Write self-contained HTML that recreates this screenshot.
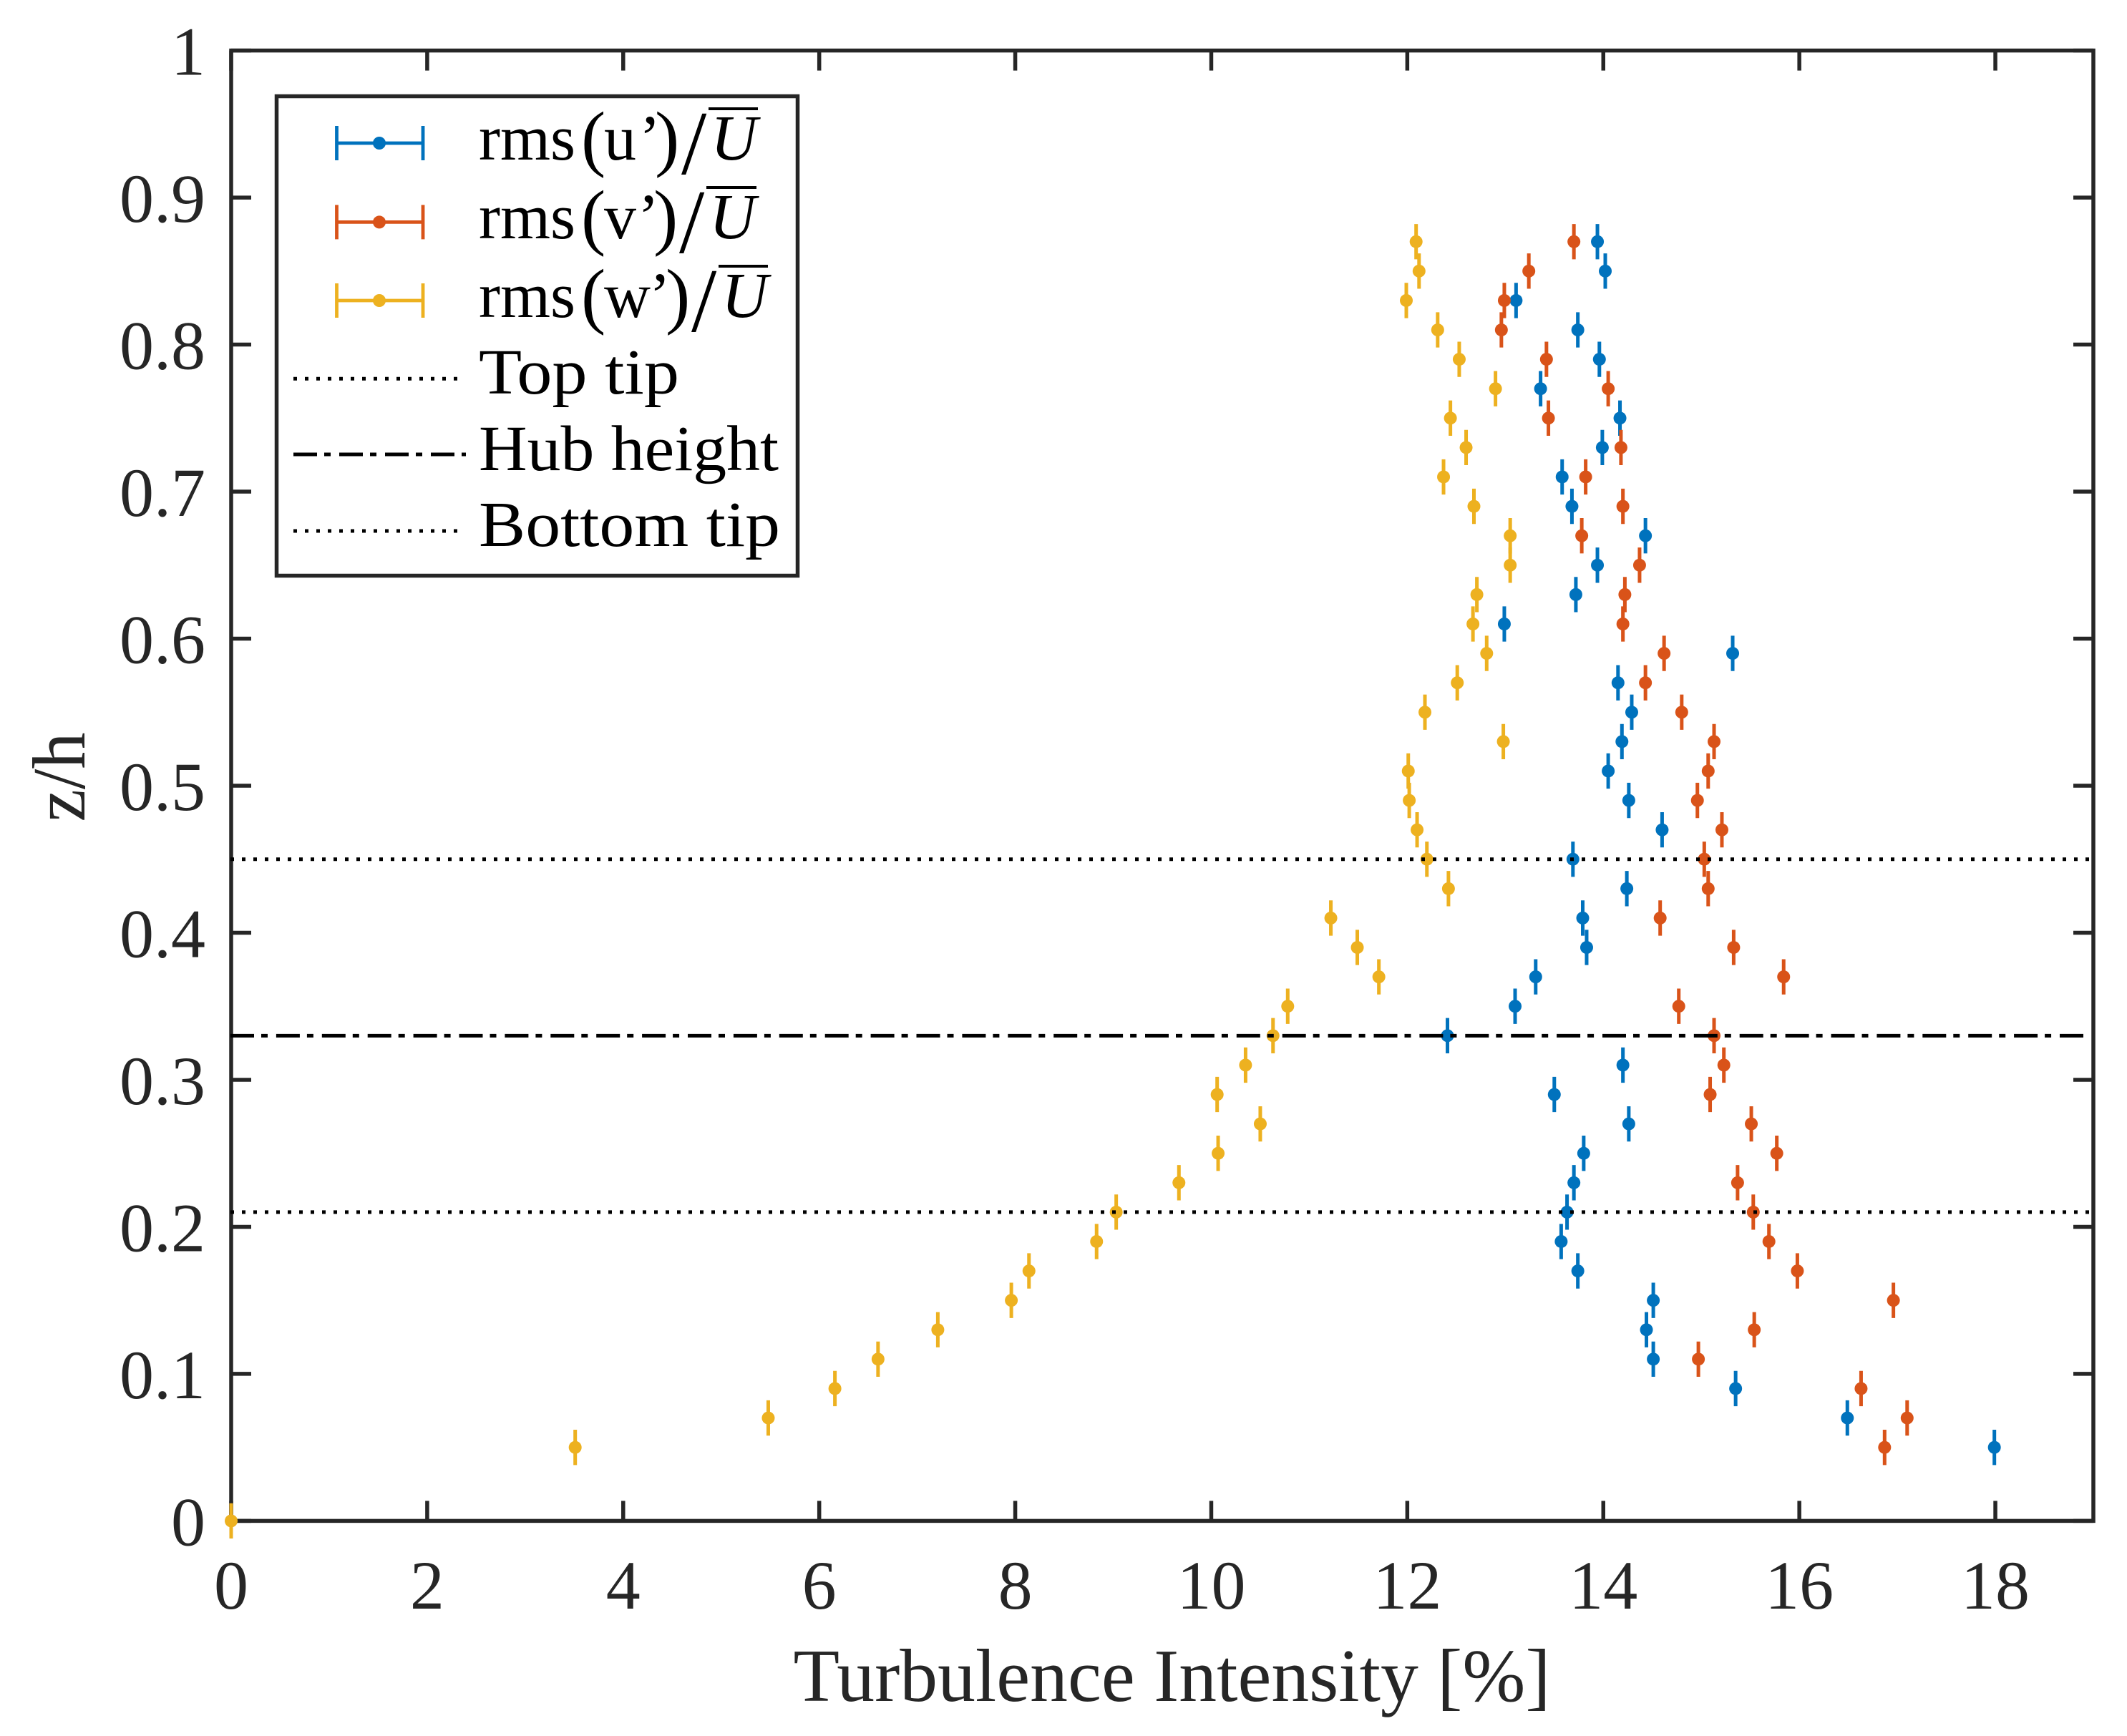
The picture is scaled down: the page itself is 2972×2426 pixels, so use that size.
<!DOCTYPE html>
<html lang="en">
<head>
<meta charset="utf-8">
<title>Turbulence Intensity Profile</title>
<style>
  html, body { margin: 0; padding: 0; background: #ffffff; }
  svg { display: block; }
  text { font-family: "Liberation Serif", serif; }
  .tick-label { font-size: 96px; fill: #262626; }
  .axis-title { font-size: 105px; fill: #262626; }
  .legend-text { font-size: 90px; fill: #000000; }
  .legend-paren { font-size: 103px; }
  .legend-slash { font-size: 127px; }
  .legend-u { font-style: italic; }
</style>
</head>
<body>
<svg id="chart" xmlns="http://www.w3.org/2000/svg" width="2972" height="2426" viewBox="0 0 2972 2426">
  <rect x="0" y="0" width="2972" height="2426" fill="#ffffff"/>
  <g id="axes-layer"></g>
  <g id="series-layer"></g>
  <g id="reference-layer"></g>
  <text class="axis-title" x="1637.5" y="2377" text-anchor="middle" textLength="1058" lengthAdjust="spacingAndGlyphs">Turbulence Intensity [%]</text>
  <text class="axis-title" transform="translate(118,1086) rotate(-90)" text-anchor="middle" textLength="125" lengthAdjust="spacingAndGlyphs">z/h</text>

  <g>
    <rect x="386.5" y="134.5" width="728" height="670" fill="#ffffff" stroke="#262626" stroke-width="5.5"/>

    <g>
      <path d="M470.5 200H591M470.5 176V224M591 176V224" fill="none" stroke="#0072BD" stroke-width="4.8"/>
      <circle cx="530" cy="200" r="9" fill="#0072BD"/>
      <text class="legend-text"><tspan x="669" y="223">rms</tspan><tspan class="legend-paren" x="812" y="227">(</tspan><tspan x="844" y="223">u</tspan><tspan x="893" y="223">’</tspan><tspan class="legend-paren" x="915" y="227">)</tspan><tspan class="legend-slash" x="952" y="243">/</tspan><tspan class="legend-u" x="993" y="223">U</tspan></text>
      <rect x="990" y="150" width="69" height="4" fill="#000000"/>
    </g>

    <g>
      <path d="M470.5 310.4H591M470.5 286.4V334.4M591 286.4V334.4" fill="none" stroke="#D95319" stroke-width="4.8"/>
      <circle cx="530" cy="310.4" r="9" fill="#D95319"/>
      <text class="legend-text"><tspan x="669" y="333">rms</tspan><tspan class="legend-paren" x="812" y="337">(</tspan><tspan x="844" y="333">v</tspan><tspan x="891" y="333">’</tspan><tspan class="legend-paren" x="913" y="337">)</tspan><tspan class="legend-slash" x="949" y="353">/</tspan><tspan class="legend-u" x="991" y="333">U</tspan></text>
      <rect x="987" y="260" width="70" height="4" fill="#000000"/>
    </g>

    <g>
      <path d="M470.5 420H591M470.5 396V444M591 396V444" fill="none" stroke="#EDB120" stroke-width="4.8"/>
      <circle cx="530" cy="420" r="9" fill="#EDB120"/>
      <text class="legend-text"><tspan x="669" y="443">rms</tspan><tspan class="legend-paren" x="812" y="447">(</tspan><tspan x="844" y="443">w</tspan><tspan x="907" y="443">’</tspan><tspan class="legend-paren" x="930" y="447">)</tspan><tspan class="legend-slash" x="966" y="463">/</tspan><tspan class="legend-u" x="1008" y="443">U</tspan></text>
      <rect x="1004" y="370" width="69" height="4" fill="#000000"/>
    </g>

    <g>
      <line x1="410" y1="529.3" x2="640" y2="529.3" stroke="#000" stroke-width="5" stroke-dasharray="5 11"/>
      <text class="legend-text" x="669" y="550" textLength="280" lengthAdjust="spacingAndGlyphs">Top tip</text>
    </g>
    <g>
      <line x1="410" y1="635" x2="651" y2="635" stroke="#000" stroke-width="5" stroke-dasharray="33 10 9 12"/>
      <text class="legend-text" x="669" y="657" textLength="419" lengthAdjust="spacingAndGlyphs">Hub height</text>
    </g>
    <g>
      <line x1="410" y1="742" x2="640" y2="742" stroke="#000" stroke-width="5" stroke-dasharray="5 11"/>
      <text class="legend-text" x="669" y="763" textLength="421" lengthAdjust="spacingAndGlyphs">Bottom tip</text>
    </g>
  </g>
</svg>

<script>
const xTickValues = [0, 2, 4, 6, 8, 10, 12, 14, 16, 18];
const yTickValues = [0, 0.1, 0.2, 0.3, 0.4, 0.5, 0.6, 0.7, 0.8, 0.9, 1];
const xTickLabels = ["0", "2", "4", "6", "8", "10", "12", "14", "16", "18"];
const yTickLabels = ["0", "0.1", "0.2", "0.3", "0.4", "0.5", "0.6", "0.7", "0.8", "0.9", "1"];

const zLevels = [0, 0.05, 0.07, 0.09, 0.11, 0.13, 0.15, 0.17, 0.19, 0.21, 0.23, 0.25, 0.27, 0.29, 0.31, 0.33, 0.35, 0.37, 0.39, 0.41, 0.43, 0.45, 0.47, 0.49, 0.51, 0.53, 0.55, 0.57, 0.59, 0.61, 0.63, 0.65, 0.67, 0.69, 0.71, 0.73, 0.75, 0.77, 0.79, 0.81, 0.83, 0.85, 0.87];
const uValues = [null, 17.99, 16.49, 15.35, 14.51, 14.44, 14.51, 13.74, 13.57, 13.63, 13.70, 13.80, 14.26, 13.50, 14.20, 12.41, 13.10, 13.31, 13.83, 13.79, 14.24, 13.69, 14.60, 14.26, 14.05, 14.19, 14.29, 14.15, 15.32, 12.99, 13.72, 13.94, 14.43, 13.68, 13.58, 13.99, 14.17, 13.36, 13.96, 13.74, 13.11, 14.02, 13.94];
const vValues = [null, 16.87, 17.10, 16.63, 14.97, 15.54, 16.96, 15.98, 15.69, 15.53, 15.37, 15.77, 15.51, 15.09, 15.23, 15.13, 14.77, 15.84, 15.33, 14.58, 15.07, 15.03, 15.21, 14.96, 15.07, 15.13, 14.80, 14.43, 14.62, 14.20, 14.22, 14.37, 13.78, 14.20, 13.82, 14.18, 13.44, 14.05, 13.42, 12.96, 12.99, 13.24, 13.70];
const wValues = [0, 3.51, 5.48, 6.16, 6.60, 7.21, 7.96, 8.14, 8.83, 9.03, 9.67, 10.07, 10.50, 10.06, 10.35, 10.63, 10.78, 11.71, 11.49, 11.22, 12.42, 12.20, 12.10, 12.02, 12.01, 12.98, 12.18, 12.51, 12.81, 12.67, 12.71, 13.05, 13.05, 12.68, 12.37, 12.60, 12.44, 12.90, 12.53, 12.31, 11.99, 12.12, 12.09];
const zError = [0.012];
const referenceLevels = [0.45, 0.33, 0.21];

const NS = "http://www.w3.org/2000/svg";
const axisLeft = 323, axisRight = 2925, axisTop = 70.6, axisBottom = 2125.4;
const xMin = 0, xMax = 19, yMin = 0, yMax = 1;

function xScale(v) { return axisLeft + (v - xMin) / (xMax - xMin) * (axisRight - axisLeft); }
function yScale(v) { return axisBottom - (v - yMin) / (yMax - yMin) * (axisBottom - axisTop); }

function make(tag, attrs, parent) {
  const el = document.createElementNS(NS, tag);
  for (const k in attrs) el.setAttribute(k, attrs[k]);
  parent.appendChild(el);
  return el;
}

const axesLayer = document.getElementById("axes-layer");
const seriesLayer = document.getElementById("series-layer");
const referenceLayer = document.getElementById("reference-layer");
const tickLen = 28;
const axisStyle = { stroke: "#262626", "stroke-width": 5.5, fill: "none" };

const frame = make("rect", { x: axisLeft, y: axisTop, width: axisRight - axisLeft, height: axisBottom - axisTop, ...axisStyle }, axesLayer);



xTickValues.forEach(function (v, i) {
  const px = xScale(v);
  const tickBottom = make("line", { x1: px, y1: axisBottom, x2: px, y2: axisBottom - tickLen, ...axisStyle }, axesLayer);
  
  
  const tickTop = make("line", { x1: px, y1: axisTop, x2: px, y2: axisTop + tickLen, ...axisStyle }, axesLayer);
  
  
  const label = make("text", { x: px, y: 2248, "text-anchor": "middle", class: "tick-label" }, axesLayer);
  label.textContent = xTickLabels[i];
  
  
});

yTickValues.forEach(function (v, i) {
  const py = yScale(v);
  const tickLeft = make("line", { x1: axisLeft, y1: py, x2: axisLeft + tickLen, y2: py, ...axisStyle }, axesLayer);
  
  
  const tickRight = make("line", { x1: axisRight, y1: py, x2: axisRight - tickLen, y2: py, ...axisStyle }, axesLayer);
  
  
  const label = make("text", { x: 287, y: py + 34, "text-anchor": "end", class: "tick-label" }, axesLayer);
  label.textContent = yTickLabels[i];
  
  
});

function drawSeries(values, color) {
  values.forEach(function (v, i) {
    if (v === null) return;
    const px = xScale(v);
    const bar = make("line", { x1: px, x2: px, y1: yScale(zLevels[i] + zError[0]), y2: yScale(zLevels[i] - zError[0]), stroke: color, "stroke-width": 5 }, seriesLayer);
    
    
    const dot = make("circle", { cx: px, cy: yScale(zLevels[i]), r: 9, fill: color }, seriesLayer);
    
    
  });
}
drawSeries(uValues, "#0072BD");
drawSeries(vValues, "#D95319");
drawSeries(wValues, "#EDB120");

referenceLevels.forEach(function (level, i) {
  const isHub = i === 1;
  const ref = make("line", {
    x1: axisLeft - 1, x2: axisRight - 5, y1: yScale(level), y2: yScale(level),
    stroke: "#000000", "stroke-width": 5,
    "stroke-dasharray": isHub ? "33 10 9 11.9" : "5 11"
  }, referenceLayer);
  
  
});
</script>
</body>
</html>
